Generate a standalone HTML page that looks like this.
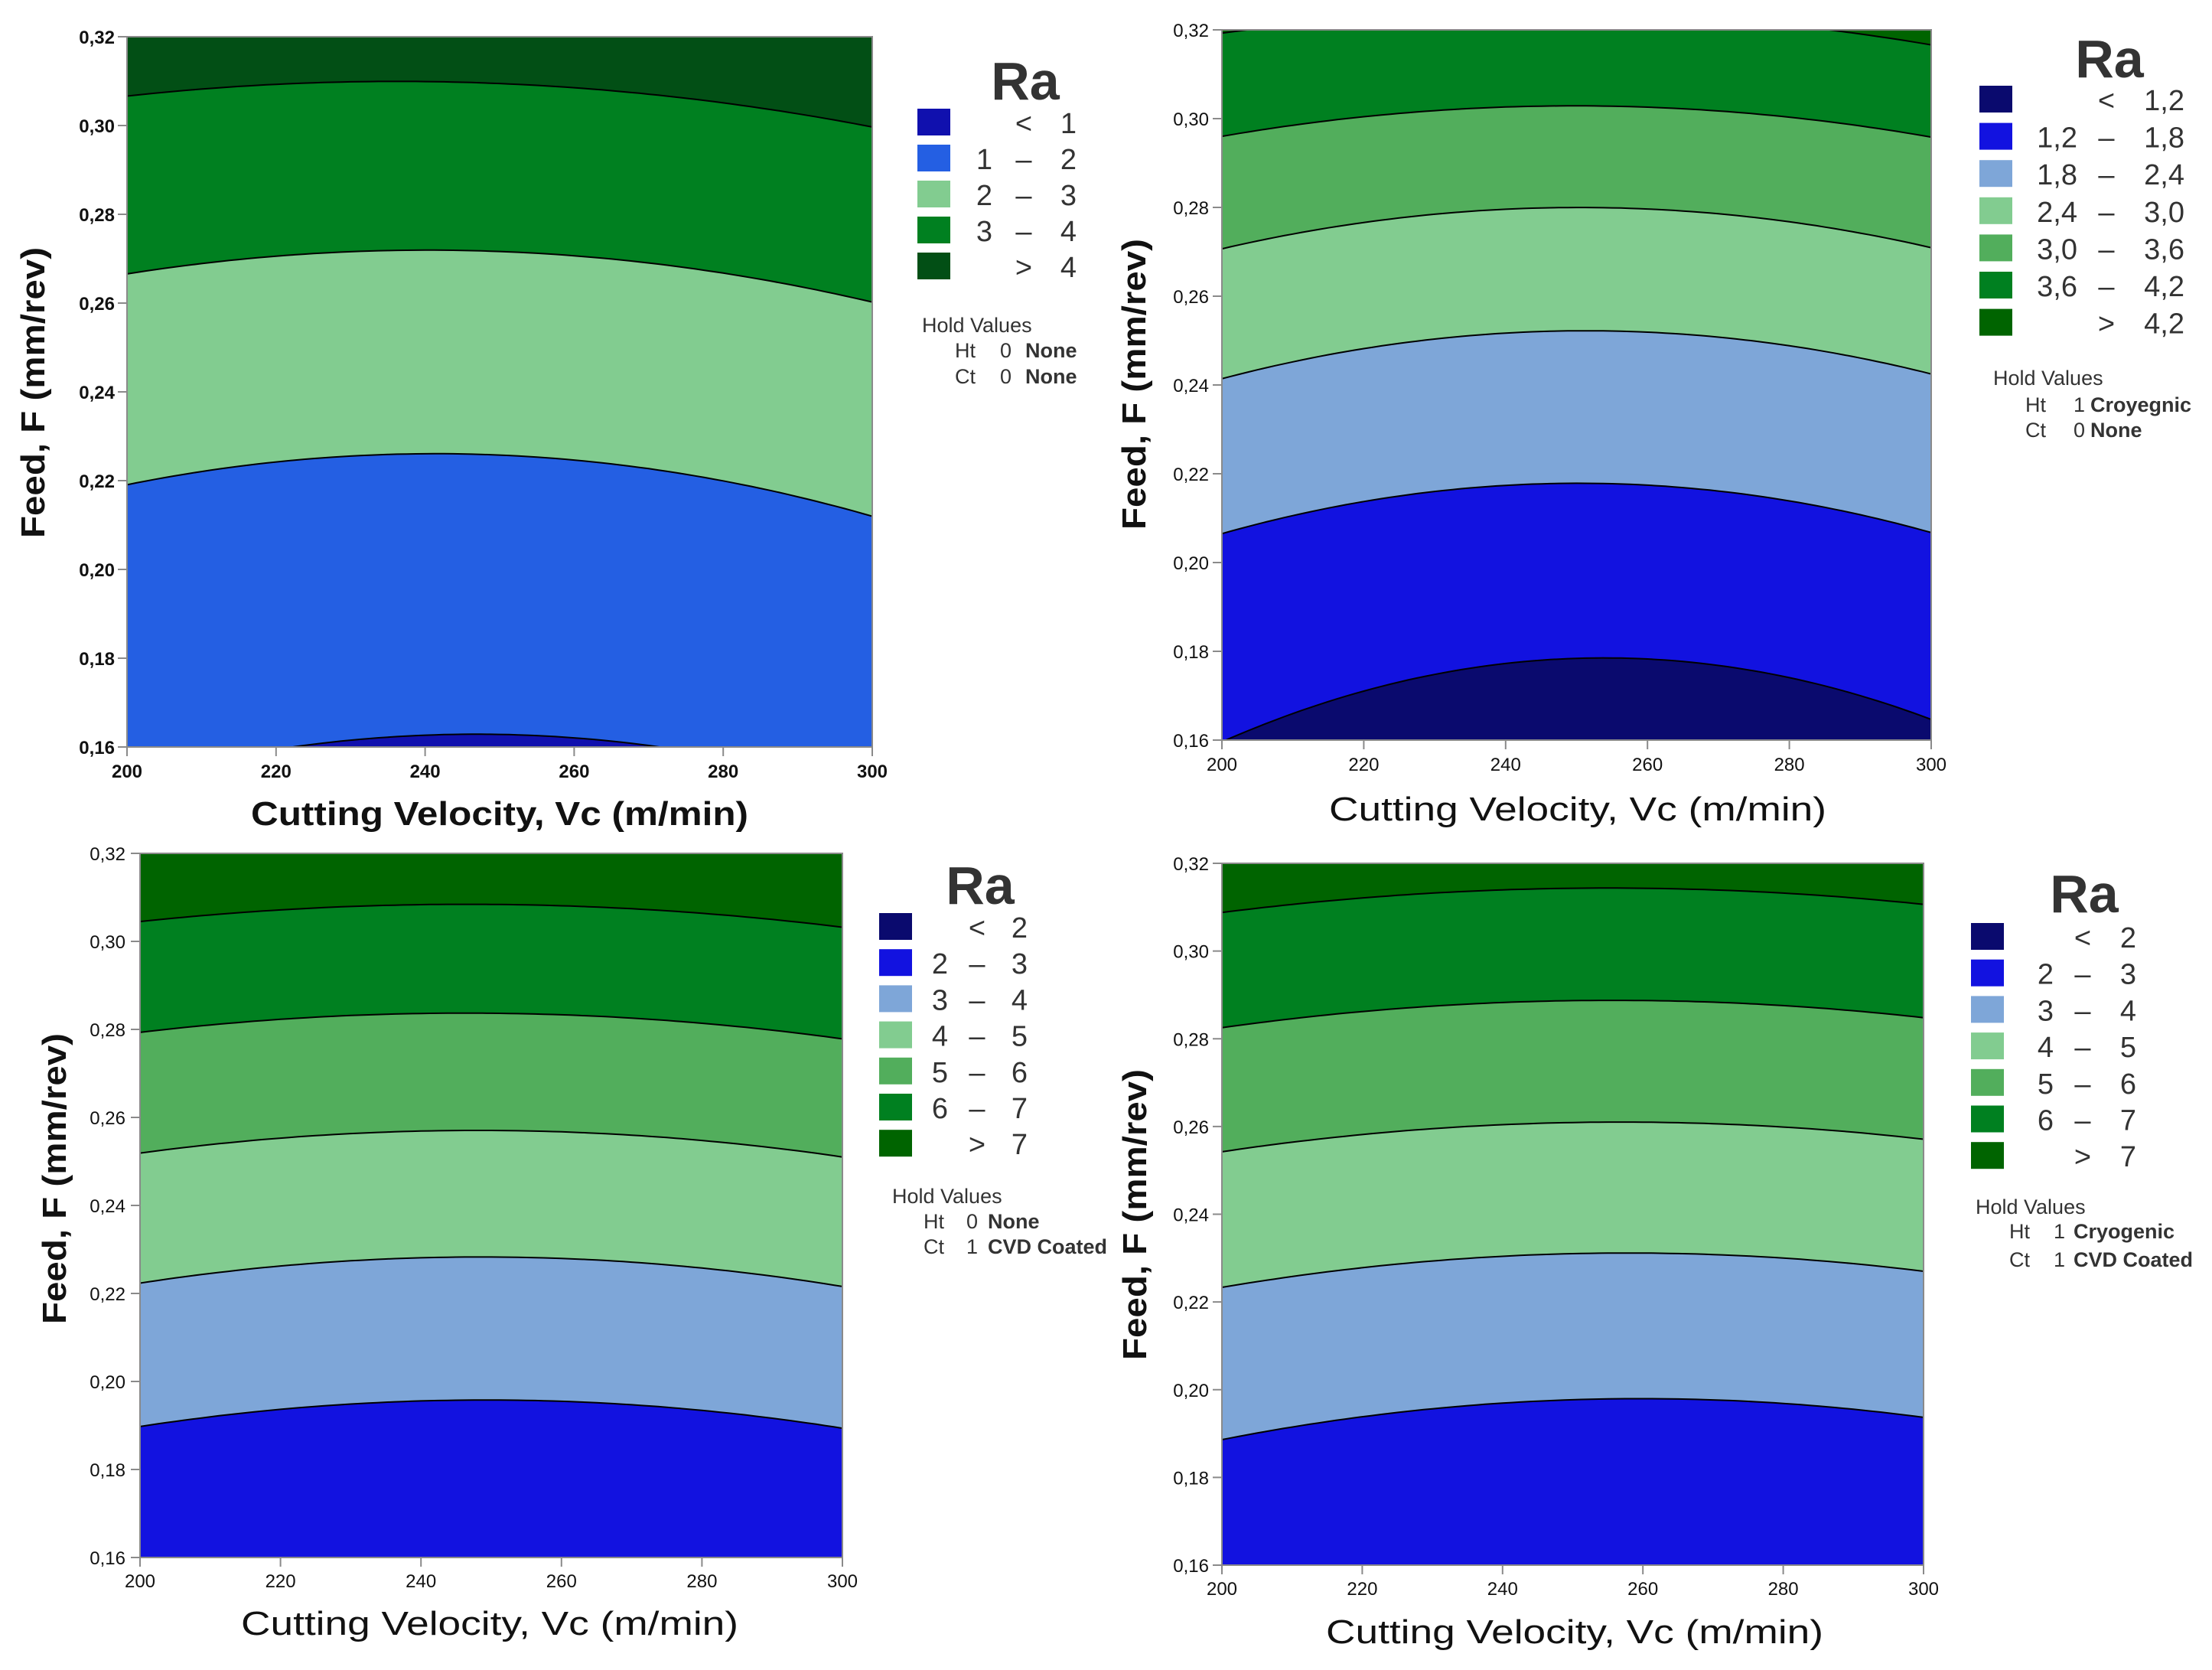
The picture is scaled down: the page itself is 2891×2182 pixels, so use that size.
<!DOCTYPE html>
<html><head><meta charset="utf-8"><title>Ra contour plots</title>
<style>
html,body{margin:0;padding:0;background:#fff;}
svg{display:block;font-family:"Liberation Sans",sans-serif;}
</style></head>
<body>
<svg id="root" width="2891" height="2182" viewBox="0 0 2891 2182" xmlns="http://www.w3.org/2000/svg"></svg>
<script>
// ---------- data ----------
const xSamples = [200, 220, 240, 260, 280, 300];
const xTicks = [200, 220, 240, 260, 280, 300];
const yTicks = [0.16, 0.18, 0.20, 0.22, 0.24, 0.26, 0.28, 0.30, 0.32];
const yTickLabels = ["0,16","0,18","0,20","0,22","0,24","0,26","0,28","0,30","0,32"];

// panel 1 (Ht 0, Ct 0): boundaries from lowest to highest level
const p1Levels = ["1", "2", "3", "4"];
const p1B1 = [0.152, 0.160, 0.1633, 0.1615, 0.157, 0.150];
const p1B2 = [0.2193, 0.2240, 0.2257, 0.2247, 0.2206, 0.2116];
const p1B3 = [0.2668, 0.2703, 0.2716, 0.2710, 0.2670, 0.2600];
const p1B4 = [0.3069, 0.3088, 0.3098, 0.3090, 0.3050, 0.2996];
const p1Legend = [["", "<", "1"], ["1", "–", "2"], ["2", "–", "3"], ["3", "–", "4"], ["", ">", "4"]];

// panel 2 (Ht 1, Ct 0)
const p2B1 = [0.1590, 0.1724, 0.1770, 0.1770, 0.1750, 0.1645];
const p2B2 = [0.2065, 0.2139, 0.2171, 0.2174, 0.2142, 0.2066];
const p2B3 = [0.2412, 0.2489, 0.2511, 0.2515, 0.2496, 0.2422];
const p2B4 = [0.2706, 0.2770, 0.2792, 0.2792, 0.2776, 0.2706];
const p2B5 = [0.2961, 0.3005, 0.3022, 0.3025, 0.3010, 0.2955];
const p2B6 = [0.3193, 0.3225, 0.3240, 0.3240, 0.3205, 0.3168];
const p2Legend = [["", "<", "1,2"], ["1,2", "–", "1,8"], ["1,8", "–", "2,4"], ["2,4", "–", "3,0"], ["3,0", "–", "3,6"], ["3,6", "–", "4,2"], ["", ">", "4,2"]];

// panel 3 (Ht 0, Ct 1)
const p3B1 = [0.1550, 0.1580, 0.1598, 0.1599, 0.1580, 0.1550];
const p3B2 = [0.1896, 0.1941, 0.1953, 0.1953, 0.1937, 0.1893];
const p3B3 = [0.2223, 0.2265, 0.2278, 0.2278, 0.2262, 0.2214];
const p3B4 = [0.2519, 0.2554, 0.2567, 0.2567, 0.2550, 0.2509];
const p3B5 = [0.2795, 0.2821, 0.2834, 0.2834, 0.2818, 0.2776];
const p3B6 = [0.3046, 0.3071, 0.3081, 0.3081, 0.3068, 0.3030];
const p3Legend = [["", "<", "2"], ["2", "–", "3"], ["3", "–", "4"], ["4", "–", "5"], ["5", "–", "6"], ["6", "–", "7"], ["", ">", "7"]];

// panel 4 (Ht 1, Ct 1)
const p4B1 = [0.1550, 0.1570, 0.1590, 0.1599, 0.1590, 0.1560];
const p4B2 = [0.1885, 0.1940, 0.1970, 0.1979, 0.1967, 0.1938];
const p4B3 = [0.2232, 0.2280, 0.2305, 0.2310, 0.2299, 0.2271];
const p4B4 = [0.2542, 0.2582, 0.2605, 0.2610, 0.2597, 0.2572];
const p4B5 = [0.2825, 0.2863, 0.2882, 0.2887, 0.2876, 0.2848];
const p4B6 = [0.3088, 0.3121, 0.3139, 0.3143, 0.3133, 0.3106];
const p4Legend = p3Legend;

// ---------- styling / layout ----------
const C5 = ["#1010ae", "#245fe3", "#82cc90", "#008020", "#024f15"];
const C7 = ["#0a0a6e", "#1212e0", "#7ea6d8", "#82cc90", "#52ae5c", "#008020", "#006400"];
const NS = "http://www.w3.org/2000/svg";
const root = document.getElementById('root');

function el(tag, attrs, parent, txt) {
  const e = document.createElementNS(NS, tag);
  for (const k in attrs) e.setAttribute(k, attrs[k]);
  if (txt !== undefined) e.textContent = txt;
  (parent || root).appendChild(e);
  return e;
}

// least-squares quadratic fit y = a + b*t + c*t^2
function quadFit(xs, ys) {
  const n = xs.length;
  let S = [0,0,0,0,0], T = [0,0,0];
  for (let i = 0; i < n; i++) {
    const t = (xs[i] - 250) / 50;
    let p = 1;
    for (let k = 0; k < 5; k++) { S[k] += p; if (k < 3) T[k] += p * ys[i]; p *= t; }
  }
  const M = [[S[0],S[1],S[2],T[0]],[S[1],S[2],S[3],T[1]],[S[2],S[3],S[4],T[2]]];
  for (let i = 0; i < 3; i++) {
    for (let j = i + 1; j < 3; j++) {
      const f = M[j][i] / M[i][i];
      for (let k = i; k < 4; k++) M[j][k] -= f * M[i][k];
    }
  }
  const r = [0,0,0];
  for (let i = 2; i >= 0; i--) {
    let s = M[i][3];
    for (let k = i + 1; k < 3; k++) s -= M[i][k] * r[k];
    r[i] = s / M[i][i];
  }
  return x => { const t = (x - 250) / 50; return r[0] + r[1] * t + r[2] * t * t; };
}

const panels = [
  {id: "p1", L: 166, R: 1140, T: 48, B: 976, bounds: [p1B1, p1B2, p1B3, p1B4], colors: C5, legend: p1Legend,
   tickFont: "bold 24px", yLabR: 150, xLabY: 1016, xTitleY: 1078, xTitleX: 653, titleWeight: "bold", yTitleX: 58, yTitleY: 513,
   lg: {sx: 1199, sy: 142, pitch: 47, low: 1297, mid: 1338, hi: 1407, raX: 1340, raY: 130},
   hold: {x: 1205, y: 434, hx: 1248, nx: 1307, tx: 1340, y1: 467, y2: 501, ht: ["0", "None"], ct: ["0", "None"]}},
  {id: "p2", L: 1597, R: 2524, T: 39, B: 967, bounds: [p2B1, p2B2, p2B3, p2B4, p2B5, p2B6], colors: C7, legend: p2Legend,
   tickFont: "24px", yLabR: 1580, xLabY: 1007, xTitleY: 1072, xTitleX: 2062, titleWeight: "normal", yTitleX: 1497, yTitleY: 502,
   lg: {sx: 2587, sy: 112, pitch: 48.6, low: 2715, mid: 2753, hi: 2855, raX: 2757, raY: 101},
   hold: {x: 2605, y: 503, hx: 2647, nx: 2710, tx: 2732, y1: 538, y2: 571, ht: ["1", "Croyegnic"], ct: ["0", "None"]}},
  {id: "p3", L: 183, R: 1101, T: 1115, B: 2035, bounds: [p3B1, p3B2, p3B3, p3B4, p3B5, p3B6], colors: C7, legend: p3Legend,
   tickFont: "24px", yLabR: 164, xLabY: 2074, xTitleY: 2136, xTitleX: 640, titleWeight: "normal", yTitleX: 86, yTitleY: 1540,
   lg: {sx: 1149, sy: 1193, pitch: 47.2, low: 1239, mid: 1277, hi: 1343, raX: 1281, raY: 1181},
   hold: {x: 1166, y: 1572, hx: 1207, nx: 1263, tx: 1291, y1: 1605, y2: 1638, ht: ["0", "None"], ct: ["1", "CVD Coated"]}},
  {id: "p4", L: 1597, R: 2514, T: 1128, B: 2045, bounds: [p4B1, p4B2, p4B3, p4B4, p4B5, p4B6], colors: C7, legend: p4Legend,
   tickFont: "24px", yLabR: 1580, xLabY: 2084, xTitleY: 2147, xTitleX: 2058, titleWeight: "normal", yTitleX: 1498, yTitleY: 1587,
   lg: {sx: 2576, sy: 1206, pitch: 47.7, low: 2684, mid: 2722, hi: 2792, raX: 2724, raY: 1192},
   hold: {x: 2582, y: 1586, hx: 2626, nx: 2684, tx: 2710, y1: 1618, y2: 1655, ht: ["1", "Cryogenic"], ct: ["1", "CVD Coated"]}}
];

panels.forEach(function (P, pi) {
  const sx = v => P.L + (v - 200) / 100 * (P.R - P.L);
  const sy = v => P.B - (v - 0.16) / 0.16 * (P.B - P.T);
  const g = el('g', {});
  
  
  const defs = el('defs', {}, g);
  const cp = el('clipPath', {id: 'clip' + P.id}, defs);
  el('rect', {x: P.L, y: P.T, width: P.R - P.L, height: P.B - P.T}, cp);
  const plot = el('g', {'clip-path': 'url(#clip' + P.id + ')'}, g);
  const n = P.bounds.length;
  const top = el('rect', {x: P.L, y: P.T, width: P.R - P.L, height: P.B - P.T, fill: P.colors[n]}, plot);
  
  
  for (let b = n - 1; b >= 0; b--) {
    const f = quadFit(xSamples, P.bounds[b]);
    const pts = [];
    for (let k = 0; k <= 80; k++) { const x = 200 + k * 100 / 80; pts.push([sx(x), sy(f(x))]); }
    const cd = "M" + pts.map(p => p[0].toFixed(1) + "," + p[1].toFixed(1)).join(" L");
    const fill = el('path', {d: cd + " L" + (P.R + 5) + "," + pts[pts.length - 1][1].toFixed(1) + " L" + (P.R + 5) + "," + (P.B + 5) + " L" + (P.L - 5) + "," + (P.B + 5) + " L" + (P.L - 5) + "," + pts[0][1].toFixed(1) + " Z", fill: P.colors[b]}, plot);
    
    
    const line = el('path', {d: cd, fill: 'none', stroke: '#000', 'stroke-width': 2}, plot);
    
    
  }
  const fr = el('rect', {x: P.L, y: P.T, width: P.R - P.L, height: P.B - P.T, fill: 'none', stroke: '#8a8a8a', 'stroke-width': 2}, g);
  
  
  yTicks.forEach((t, i) => {
    const y = sy(t);
    el('line', {x1: P.L - 12, x2: P.L, y1: y, y2: y, stroke: '#8a8a8a', 'stroke-width': 2}, g);
    const tl = el('text', {x: P.yLabR, y: y + 9, 'text-anchor': 'end', style: 'font:' + P.tickFont + ' "Liberation Sans",sans-serif', fill: '#111'}, g, yTickLabels[i]);
    
    
  });
  xTicks.forEach(t => {
    const x = sx(t);
    el('line', {x1: x, x2: x, y1: P.B, y2: P.B + 12, stroke: '#8a8a8a', 'stroke-width': 2}, g);
    const tl = el('text', {x: x, y: P.xLabY, 'text-anchor': 'middle', style: 'font:' + P.tickFont + ' "Liberation Sans",sans-serif', fill: '#111'}, g, String(t));
    
    
  });
  const xt = el('text', {x: P.xTitleX, y: P.xTitleY, 'text-anchor': 'middle', 'font-size': 44, 'font-weight': P.titleWeight, fill: '#111', textLength: 650, lengthAdjust: 'spacingAndGlyphs'}, g, 'Cutting Velocity, Vc (m/min)');
  
  
  const yt = el('text', {x: P.yTitleX, y: P.yTitleY, 'text-anchor': 'middle', 'font-size': 44, 'font-weight': 'bold', fill: '#111', transform: 'rotate(-90 ' + P.yTitleX + ' ' + P.yTitleY + ')', textLength: 380, lengthAdjust: 'spacingAndGlyphs'}, g, 'Feed, F (mm/rev)');
  
  
  const lg = P.lg;
  const ra = el('text', {x: lg.raX, y: lg.raY, 'text-anchor': 'middle', 'font-size': 70, 'font-weight': 'bold', fill: '#333'}, g, 'Ra');
  
  
  P.legend.forEach((row, i) => {
    const y0 = lg.sy + i * lg.pitch;
    const sw = el('rect', {x: lg.sx, y: y0, width: 43, height: 35, fill: P.colors[i]}, g);
    
    
    const yb = y0 + 32;
    const st = 'font-size:38px;fill:#333';
    if (row[0]) el('text', {x: lg.low, y: yb, 'text-anchor': 'end', style: st}, g, row[0]);
    el('text', {x: lg.mid, y: yb, 'text-anchor': 'middle', style: st}, g, row[1]);
    const hv = el('text', {x: lg.hi, y: yb, 'text-anchor': 'end', style: st}, g, row[2]);
    
    
  });
  const h = P.hold;
  const hs = 'font-size:27px;fill:#333';
  const ht = el('text', {x: h.x, y: h.y, style: hs}, g, 'Hold Values');
  
  
  el('text', {x: h.hx, y: h.y1, style: hs}, g, 'Ht');
  el('text', {x: h.nx, y: h.y1, style: hs}, g, h.ht[0]);
  el('text', {x: h.tx, y: h.y1, style: hs + ';font-weight:bold'}, g, h.ht[1]);
  el('text', {x: h.hx, y: h.y2, style: hs}, g, 'Ct');
  el('text', {x: h.nx, y: h.y2, style: hs}, g, h.ct[0]);
  el('text', {x: h.tx, y: h.y2, style: hs + ';font-weight:bold'}, g, h.ct[1]);
});
</script>
</body></html>
